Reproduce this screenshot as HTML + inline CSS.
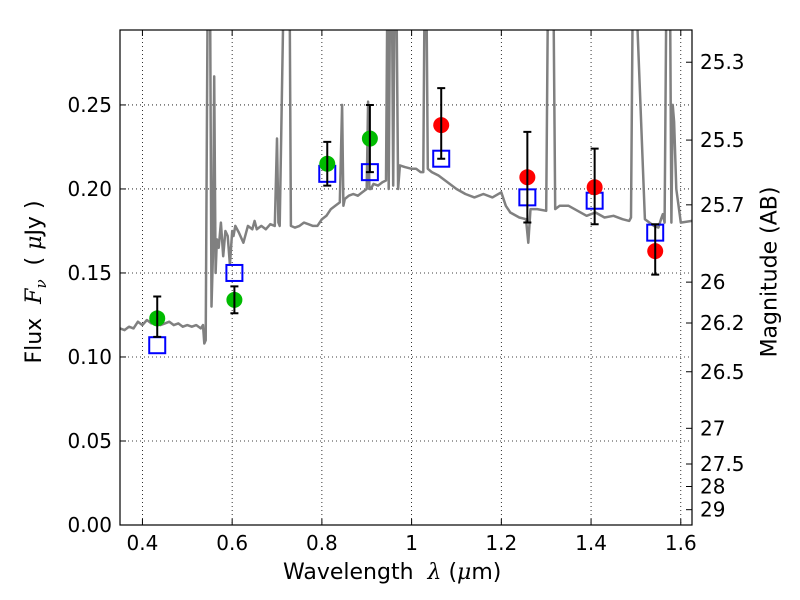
<!DOCTYPE html>
<html><head><meta charset="utf-8"><style>
body{margin:0;background:#fff}
svg{display:block;font-family:"DejaVu Sans","Liberation Sans",sans-serif}
</style></head><body>
<svg id="chart" width="800" height="600"></svg>
<script>
const specWave=[0.35,0.36,0.37,0.38,0.39,0.40,0.41,0.42,0.43,0.44,0.45,0.46,0.47,0.48,0.49,0.50,0.51,0.52,0.53,0.535,0.538,0.541,0.545,0.548,0.551,0.554,0.557,0.560,0.563,0.566,0.570,0.575,0.58,0.585,0.59,0.595,0.60,0.603,0.607,0.615,0.625,0.635,0.645,0.650,0.655,0.665,0.675,0.685,0.695,0.700,0.703,0.706,0.715,0.722,0.725,0.728,0.731,0.740,0.750,0.760,0.770,0.780,0.790,0.80,0.81,0.82,0.83,0.84,0.845,0.848,0.851,0.86,0.87,0.88,0.89,0.90,0.903,0.906,0.909,0.915,0.925,0.935,0.943,0.946,0.949,0.952,0.956,0.959,0.962,0.966,0.970,0.974,0.985,1.0,1.01,1.02,1.026,1.029,1.033,1.036,1.045,1.06,1.08,1.1,1.12,1.14,1.16,1.18,1.2,1.21,1.22,1.24,1.255,1.26,1.265,1.28,1.30,1.304,1.308,1.316,1.320,1.33,1.35,1.37,1.39,1.41,1.43,1.45,1.47,1.485,1.489,1.493,1.497,1.50,1.52,1.54,1.55,1.556,1.560,1.564,1.568,1.572,1.576,1.579,1.582,1.585,1.59,1.60,1.625];
const specFlux=[0.117,0.116,0.118,0.117,0.121,0.119,0.122,0.120,0.121,0.119,0.120,0.121,0.119,0.120,0.118,0.119,0.118,0.119,0.117,0.119,0.108,0.110,0.30,0.32,0.30,0.13,0.16,0.267,0.15,0.17,0.165,0.18,0.16,0.175,0.172,0.155,0.175,0.172,0.178,0.174,0.168,0.178,0.176,0.181,0.176,0.178,0.176,0.179,0.178,0.23,0.18,0.178,0.32,0.32,0.32,0.32,0.178,0.177,0.178,0.180,0.179,0.178,0.178,0.182,0.184,0.188,0.190,0.192,0.25,0.19,0.194,0.196,0.197,0.196,0.198,0.20,0.252,0.20,0.20,0.203,0.202,0.204,0.205,0.32,0.20,0.32,0.32,0.202,0.32,0.32,0.20,0.214,0.213,0.212,0.212,0.210,0.210,0.32,0.32,0.212,0.210,0.208,0.204,0.200,0.197,0.195,0.197,0.195,0.198,0.190,0.186,0.183,0.182,0.168,0.188,0.188,0.187,0.32,0.32,0.32,0.188,0.190,0.190,0.187,0.184,0.186,0.183,0.184,0.182,0.181,0.183,0.32,0.32,0.32,0.182,0.178,0.177,0.182,0.185,0.18,0.32,0.32,0.32,0.18,0.25,0.24,0.20,0.18,0.181,0.181,0.179];
const photWave=[0.433,0.605,0.812,0.907,1.066,1.258,1.408,1.543];
const photFlux=[0.123,0.134,0.215,0.230,0.238,0.207,0.201,0.163];
const errHi=[0.136,0.142,0.228,0.250,0.260,0.234,0.224,0.179];
const errLo=[0.112,0.126,0.202,0.210,0.218,0.180,0.179,0.149];
const photColor=['#00bb00','#00bb00','#00bb00','#00bb00','#ff0000','#ff0000','#ff0000','#ff0000'];
const modelFlux=[0.107,0.150,0.209,0.210,0.218,0.195,0.193,0.174];
const xTicks=[0.4,0.6,0.8,1.0,1.2,1.4,1.6];
const xTickLabels=['0.4','0.6','0.8','1','1.2','1.4','1.6'];
const yTicks=[0,0.05,0.10,0.15,0.20,0.25];
const yTickLabels=['0.00','0.05','0.10','0.15','0.20','0.25'];
const magTicks=[25.3,25.5,25.7,26,26.2,26.5,27,27.5,28,29];

const L=120,R=692,T=30,B=525,x0=0.35,x1=1.625,y0=0,y1=0.2946;
const sx=v=>L+(v-x0)/(x1-x0)*(R-L);
const sy=v=>B-(v-y0)/(y1-y0)*(B-T);
const NS='http://www.w3.org/2000/svg';
const svg=document.getElementById('chart');
function mk(tag,attrs,parent){const e=document.createElementNS(NS,tag);for(const k in attrs)e.setAttribute(k,attrs[k]);(parent||svg).appendChild(e);return e;}

const defs=mk('defs',{});
const cp=mk('clipPath',{id:'clip'},defs);mk('rect',{x:L,y:T,width:R-L,height:B-T},cp);

// grid
xTicks.forEach(t=>{const g=mk('line',{x1:sx(t),x2:sx(t),y1:T,y2:B,stroke:'#000','stroke-width':0.8,'stroke-dasharray':'1,3'});

});
yTicks.forEach(t=>{const g=mk('line',{x1:L,x2:R,y1:sy(t),y2:sy(t),stroke:'#000','stroke-width':0.8,'stroke-dasharray':'1,3'});

});

// spectrum
const pts=specWave.map((w,i)=>sx(w).toFixed(1)+','+sy(specFlux[i]).toFixed(1)).join(' ');
const sp=mk('polyline',{points:pts,fill:'none',stroke:'#808080','stroke-width':2.5,'clip-path':'url(#clip)','stroke-linejoin':'round'});



// model boxes
modelFlux.forEach((f,i)=>{const r=mk('rect',{x:sx(photWave[i])-8,y:sy(f)-8,width:16,height:16,fill:'none',stroke:'#0000ff','stroke-width':2});

});
// points
photWave.forEach((w,i)=>{const c=mk('circle',{cx:sx(w),cy:sy(photFlux[i]),r:8,fill:photColor[i]});

});
// error bars
photWave.forEach((w,i)=>{const x=sx(w),a=sy(errHi[i]),b=sy(errLo[i]);
const g=mk('path',{d:`M${x},${a}V${b}M${x-4},${a}H${x+4}M${x-4},${b}H${x+4}`,stroke:'#000','stroke-width':2,fill:'none'});

});

// frame
const fr=mk('rect',{x:L,y:T,width:R-L,height:B-T,fill:'none',stroke:'#000','stroke-width':1.2});



// x ticks
xTicks.forEach((t,i)=>{mk('line',{x1:sx(t),x2:sx(t),y1:B,y2:B-6,stroke:'#000'});mk('line',{x1:sx(t),x2:sx(t),y1:T,y2:T+6,stroke:'#000'});
const tx=mk('text',{x:sx(t),y:B+25,'text-anchor':'middle','font-size':20});tx.textContent=xTickLabels[i];

});
yTicks.forEach((t,i)=>{mk('line',{x1:L,x2:L+6,y1:sy(t),y2:sy(t),stroke:'#000'});
const tx=mk('text',{x:L-8,y:sy(t)+7,'text-anchor':'end','font-size':20});tx.textContent=yTickLabels[i];

});
magTicks.forEach(m=>{const y=sy(Math.pow(10,(23.9-m)/2.5));mk('line',{x1:R,x2:R-6,y1:y,y2:y,stroke:'#000'});
const tx=mk('text',{x:R+8,y:y+7,'font-size':20});tx.textContent=String(m);

});
</script>
<svg width="0" height="0"></svg>
<div style="position:absolute;left:0;top:0;width:800px;height:600px;pointer-events:none">
<div style="position:absolute;left:283px;top:560px;font:22px 'DejaVu Sans',sans-serif">Wavelength &nbsp;<i style="font-family:'DejaVu Serif',serif">λ</i> (<i style="font-family:'DejaVu Serif',serif">μ</i>m)</div>
<div style="position:absolute;left:36px;top:282px;transform:translate(-50%,-50%) rotate(-90deg);white-space:nowrap;font:22px 'DejaVu Sans',sans-serif">Flux &nbsp;<i style="font-family:'DejaVu Serif',serif">F<sub style="font-size:15px">ν</sub></i> &nbsp;( <i style="font-family:'DejaVu Serif',serif">μ</i>Jy )</div>
<div style="position:absolute;left:770px;top:272px;transform:translate(-50%,-50%) rotate(-90deg);white-space:nowrap;font:22px 'DejaVu Sans',sans-serif">Magnitude (AB)</div>
</div>
</body></html>
